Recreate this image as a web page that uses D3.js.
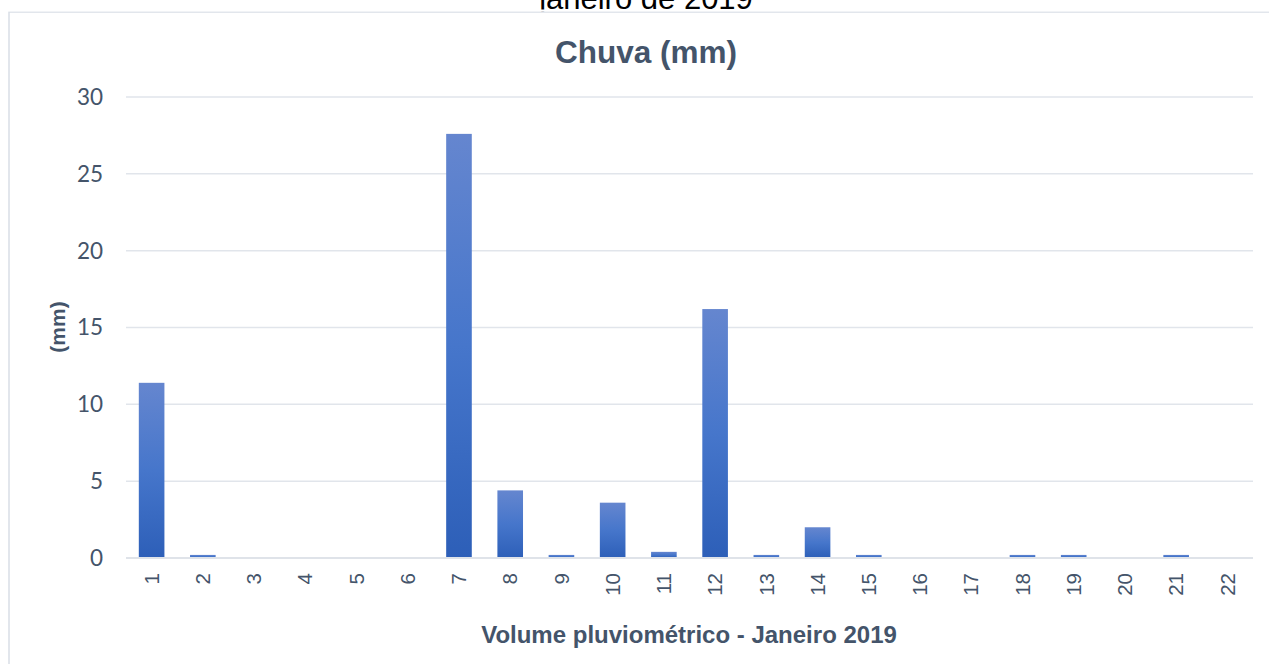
<!DOCTYPE html>
<html><head><meta charset="utf-8">
<script src="https://cdn.jsdelivr.net/npm/d3@7"></script>
<style>html,body{margin:0;padding:0;background:#fff;overflow:hidden}</style>
</head><body>
<svg id="c" width="1269" height="664"></svg>
<script>
const days = ["1","2","3","4","5","6","7","8","9","10","11","12","13","14","15","16","17","18","19","20","21","22"];
const rain = [11.4,0.2,0,0,0,0,27.6,4.4,0.2,3.6,0.4,16.2,0.2,2.0,0.2,0,0,0.2,0.2,0,0.2,0];
const yTicks = [0,5,10,15,20,25,30];
const chartTitle = "Chuva (mm)";
const pageCaption = "janeiro de 2019";
const xTitle = "Volume pluviométrico - Janeiro 2019";
const yTitle = "(mm)";

const svg = d3.select("#c");
const slate = "#44546a";

// caption above (partly hidden by chart frame, as in the reference)
svg.append("text").attr("x",646).attr("y",9).attr("text-anchor","middle")
  .attr("font-family","Liberation Sans, Arial, sans-serif").attr("font-size",31)
  .attr("fill","#000").text(pageCaption);

// chart frame
svg.append("rect").attr("x",9).attr("y",12).attr("width",1290).attr("height",700)
  .attr("fill","#fff").attr("stroke","#d9dee6").attr("stroke-width",1.5);
svg.append("rect").attr("x",0).attr("y",9.5).attr("width",1269).attr("height",2)
  .attr("fill","#fff");

const defs = svg.append("defs");
const g = defs.append("linearGradient").attr("id","bg").attr("x1",0).attr("y1",0).attr("x2",0).attr("y2",1);
g.append("stop").attr("offset","0%").attr("stop-color","#6586cf");
g.append("stop").attr("offset","50%").attr("stop-color","#4676cb");
g.append("stop").attr("offset","100%").attr("stop-color","#2d5fb8");

const x = d3.scaleBand().domain(days).range([126,1253]).paddingInner(0.5).paddingOuter(0.25);
const y = d3.scaleLinear().domain([0,30]).range([558,97]);

// gridlines
svg.append("g").selectAll("line").data(yTicks).join("line")
  .attr("x1",126).attr("x2",1253).attr("y1",d=>y(d)).attr("y2",d=>y(d))
  .attr("stroke","#e1e5eb").attr("stroke-width",1.5);

// bars
svg.append("g").selectAll("rect").data(rain.map((v,i)=>({d:days[i],v})).filter(o=>o.v>0)).join("rect")
  .attr("x",o=>x(o.d)).attr("width",x.bandwidth())
  .attr("y",o=>y(o.v)).attr("height",o=>y(0)-y(o.v))
  .attr("fill","url(#bg)");

// baseline
svg.append("line").attr("x1",126).attr("x2",1253).attr("y1",y(0)).attr("y2",y(0))
  .attr("stroke","#dfe3e9").attr("stroke-width",1.8);

// y tick labels
svg.append("g").selectAll("text").data(yTicks).join("text")
  .attr("x",103).attr("y",d=>y(d)).attr("dy","0.35em").attr("text-anchor","end")
  .attr("font-family","Lato, Carlito, sans-serif").attr("font-size",22.5).attr("fill",slate)
  .text(d=>d);

// x tick labels
svg.append("g").selectAll("text").data(days).join("text")
  .attr("transform",d=>`translate(${x(d)+x.bandwidth()/2},573) rotate(-90)`)
  .attr("dy","0.35em").attr("text-anchor","end")
  .attr("font-family","Liberation Sans, Arial, sans-serif").attr("font-size",20.5).attr("fill",slate)
  .text(d=>d);

// titles
svg.append("text").attr("x",646).attr("y",63).attr("text-anchor","middle")
  .attr("font-family","Liberation Sans, Arial, sans-serif").attr("font-weight","bold")
  .attr("font-size",31.5).attr("fill",slate).text(chartTitle);

svg.append("text").attr("x",689).attr("y",643).attr("text-anchor","middle")
  .attr("font-family","Liberation Sans, Arial, sans-serif").attr("font-weight","bold")
  .attr("font-size",24).attr("fill",slate).text(xTitle);

svg.append("text").attr("transform","translate(58,327) rotate(-90)")
  .attr("dy","0.35em").attr("text-anchor","middle")
  .attr("font-family","Liberation Sans, Arial, sans-serif").attr("font-weight","bold")
  .attr("font-size",21).attr("fill",slate).text(yTitle);
</script>
</body></html>
